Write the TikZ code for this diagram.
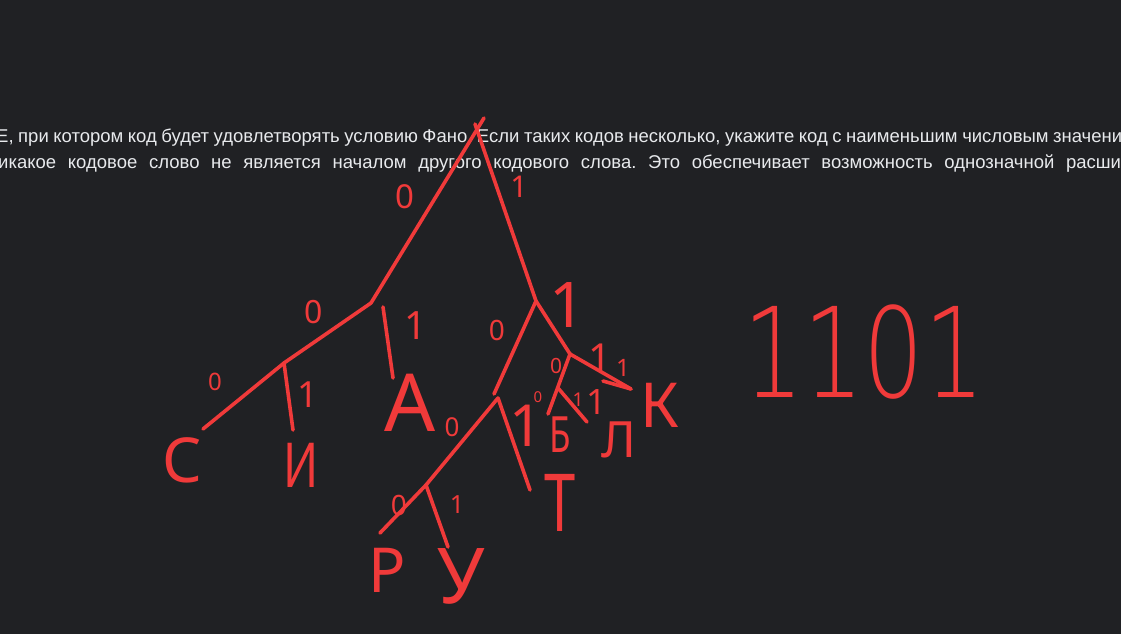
\documentclass[tikz,border=0pt]{standalone}
\usepackage{fontspec}
\setmainfont{Liberation Sans}
\newfontfamily\penfont{Noto Sans}
\newfontfamily\thinpen{DejaVu Sans ExtraLight}
\usetikzlibrary{positioning}
\definecolor{screenbg}{RGB}{32,33,36}
\definecolor{screentext}{RGB}{232,234,237}
\definecolor{penred}{RGB}{240,58,58}
\frenchspacing

\begin{document}
\begin{tikzpicture}[
  x=1pt, y=-1pt,
  paraline/.style={
    text=screentext, inner sep=0pt, anchor=base west,
    font=\fontsize{18.5}{22}\selectfont
  },
  branch/.style={draw=penred, line width=3.6pt, line cap=round, line join=round},
  handlbl/.style={text=penred, inner sep=0pt, font=\penfont\fontsize{#1}{#1}\selectfont}
]
\fill[screenbg] (0,0) rectangle (1121,634);
\useasboundingbox (0,0) rectangle (1121,634);
\clip (0,0) rectangle (1121,634);

\node[paraline] (line1) at (-4,142) {\makebox[1126pt][s]{Е, при котором код будет удовлетворять условию Фано. Если таких кодов несколько, укажите код с наименьшим числовым значени}};
\node[paraline] (line2) at (-2,168) {\makebox[1123pt][s]{икакое кодовое слово не является началом другого кодового слова. Это обеспечивает возможность однозначной расши}};

\coordinate (rootA) at (484,118);
\coordinate (rootB) at (475,124);
\coordinate (nL) at (371,303);
\coordinate (nR) at (536,301);
\coordinate (nLL) at (284,363);
\coordinate (leafS) at (203,429);
\coordinate (leafI) at (293,430);
\coordinate (armAtop) at (383,307);
\coordinate (armAend) at (393,378);
\coordinate (nB) at (494,394);
\coordinate (nRR) at (570,354);
\coordinate (nBtop) at (498,398);
\coordinate (nP) at (426,485);
\coordinate (leafP) at (380,533);
\coordinate (leafU) at (448,547);
\coordinate (leafT) at (530,490);
\coordinate (kEnd) at (631,389);
\coordinate (kBar) at (603,381);
\coordinate (msA) at (548,414);
\coordinate (msB) at (558,388);
\coordinate (msC) at (587,422);

\draw[branch] (rootA) -- (nL);
\draw[branch] (rootB) -- (nR);
\draw[branch] (nL) -- (nLL);
\draw[branch] (nLL) -- (leafS);
\draw[branch] (nLL) -- (leafI);
\draw[branch] (armAtop) -- (armAend);
\draw[branch] (nR) -- (nB);
\draw[branch] (nR) -- (nRR);
\draw[branch] (nBtop) -- (nP) -- (leafP);
\draw[branch] (nP) -- (leafU);
\draw[branch] (nBtop) -- (leafT);
\draw[branch] (nRR) -- (kEnd);
\draw[branch] (kBar) -- (kEnd);
\draw[branch] (nRR) -- (msA);
\draw[branch] (msB) -- (msC);

\node[handlbl=33] (b0root) at (405,197) {0};
\node[handlbl=30] (b1root) at (519,187) {1};
\node[handlbl=32] (b0L) at (314,312) {0};
\node[handlbl=39] (b1L) at (416,326) {1};
\node[handlbl=24] (b0LL) at (215,382) {0};
\node[handlbl=36] (b1LL) at (308,395) {1};
\node[handlbl=28] (b0R) at (497,330) {0};
\node[handlbl=63] (b1R) at (568,305) {1};
\node[handlbl=21] (b0RR) at (556,366) {0};
\node[handlbl=40] (b1RR) at (600,358) {1};
\node[handlbl=24] (b1K) at (623,368) {1};
\node[handlbl=15] (b0M) at (538,397) {0};
\node[handlbl=19] (b1M) at (578,400) {1};
\node[handlbl=35] (b1Mb) at (597,402) {1};
\node[handlbl=26] (b0B) at (452,427) {0};
\node[handlbl=58] (b1B) at (526,426) {1};
\node[handlbl=28] (b0P) at (399,505) {0};
\node[handlbl=25] (b1P) at (457,505) {1};

\node[handlbl=62] (chS) at (182,460) {С};
\node[handlbl=62] (chI) at (301,465) {\scalebox{0.75}[1]{И}};
\node[handlbl=80] (chA) at (410,403) {А};
\node[handlbl=62] (chR) at (387,570) {Р};
\node[handlbl=77] (chU) at (461,576) {У};
\node[handlbl=80] (chT) at (560,503) {\scalebox{0.7}[1]{Т}};
\node[handlbl=50] (chB) at (560,435) {\scalebox{0.7}[1]{Б}};
\node[handlbl=50] (chL) at (619,440) {Л};
\node[handlbl=62] (chK) at (660,405) {К};
\node[text=penred, inner sep=0pt, font=\thinpen\fontsize{125}{125}\selectfont] (answer) at (864,352) {\scalebox{0.76}[1]{1101}};
\end{tikzpicture}
\end{document}
